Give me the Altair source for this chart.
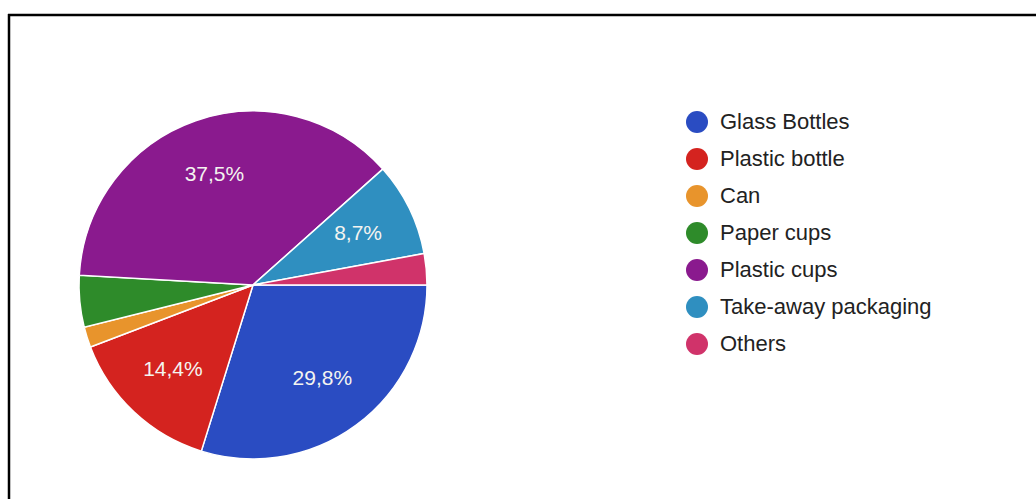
import math
import altair as alt
import pandas as pd

categories = ["Glass Bottles", "Plastic bottle", "Can", "Paper cups",
              "Plastic cups", "Take-away packaging", "Others"]
shares = [29.8, 14.4, 1.9, 4.8, 37.5, 8.7, 2.9]
labels = ["29,8%", "14,4%", "", "", "37,5%", "8,7%", ""]
colors = ["#2a4cc2", "#d4231f", "#e8942c", "#2e8b2a", "#8a1a8e", "#2f8fc0", "#d0336a"]

df = pd.DataFrame({"category": categories, "share": shares,
                   "label": labels, "order": list(range(len(categories)))})

theta = alt.Theta("share:Q", stack=True,
                  scale=alt.Scale(range=[math.pi / 2, math.pi / 2 + 2 * math.pi]))

pie = alt.Chart(df).mark_arc(outerRadius=174, stroke="#ffffff", strokeWidth=1.5).encode(
    theta=theta,
    order=alt.Order("order:Q"),
    x=alt.value(253),
    y=alt.value(285),
    color=alt.Color("category:N", sort=categories,
                    scale=alt.Scale(domain=categories, range=colors),
                    legend=alt.Legend(title=None, orient="none", legendX=686, legendY=111,
                                      symbolType="circle", symbolSize=484,
                                      symbolStrokeWidth=0, labelFontSize=22,
                                      labelFont="Liberation Sans", labelColor="#222222",
                                      labelOffset=12, rowPadding=15, labelLimit=400)),
)

text = alt.Chart(df).mark_text(radius=117, font="Liberation Sans", fontSize=21,
                               color="#f4f4f0").encode(
    theta=theta,
    order=alt.Order("order:Q"),
    x=alt.value(253),
    y=alt.value(285),
    text="label:N",
)

one = pd.DataFrame({"a": [0]})
top = alt.Chart(one).mark_rule(color="#000000", strokeWidth=2.5).encode(
    x=alt.value(8), x2=alt.value(1036), y=alt.value(15))
left = alt.Chart(one).mark_rule(color="#000000", strokeWidth=2.5).encode(
    x=alt.value(9), y=alt.value(14), y2=alt.value(499))

chart = alt.layer(pie, text, top, left).properties(
    width=1036, height=499, autosize="none", padding=0
).configure_view(stroke=None)

chart.save("out.html", embed_options={"renderer": "svg", "actions": False})
